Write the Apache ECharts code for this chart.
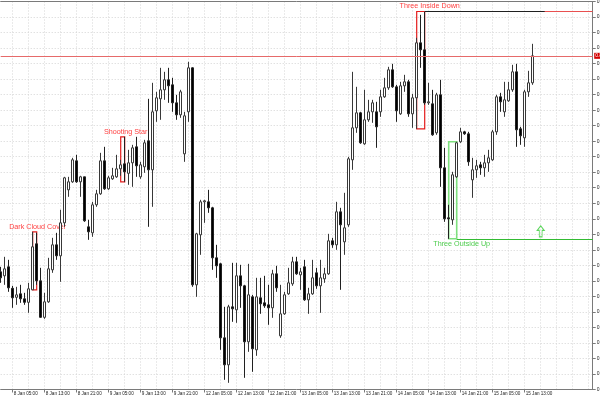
<!DOCTYPE html>
<html><head><meta charset="utf-8">
<script src="https://cdn.jsdelivr.net/npm/echarts@6/dist/echarts.min.js"></script>
<style>html,body{margin:0;padding:0;background:#fff}#c{width:600px;height:400px}</style>
</head><body><div id="c"></div>
<script>
// hourly bars, Friday closes 23:00, Monday opens 00:00
const daySpans = [[8,2,23],[9,0,23],[12,0,23],[13,0,23],[14,0,23],[15,0,23],[16,0,6]];
const categories = [];
daySpans.forEach(([d,h0,h1]) => { for (let h=h0; h<=h1; h++) categories.push(d+' Jan '+String(h).padStart(2,'0')+':00'); });

const tickLabels = ['8 Jan 05:00','8 Jan 13:00','8 Jan 21:00','9 Jan 05:00','9 Jan 13:00','9 Jan 21:00',
  '12 Jan 05:00','12 Jan 13:00','12 Jan 21:00','13 Jan 05:00','13 Jan 13:00','13 Jan 21:00',
  '14 Jan 05:00','14 Jan 13:00','14 Jan 21:00','15 Jan 05:00','15 Jan 13:00'];

const opens = [0.8126,0.8122,0.8131,0.81095,0.81005,0.8104,0.8099,0.80955,0.8108,0.8154,
0.8117,0.80805,0.8096,0.8128,0.8153,0.8142,0.8175,0.8208,0.8216,0.8237,
0.8216,0.8221,0.8171,0.8165,0.8193,0.8204,0.8237,0.8209,0.8219,0.8221,
0.8229,0.8234,0.82245,0.8235,0.8251,0.8221,0.8231,0.8257,0.8228,0.8287,
0.8299,0.8308,0.8318,0.8313,0.8295,0.8283,0.8244,0.8286,0.8330,0.8113,
0.8163,0.8196,0.8196,0.8190,0.8140,0.8134,0.8060,0.8033,0.8091,0.8088,
0.8122,0.8112,0.8056,0.8101,0.8048,0.8100,0.8095,0.8093,0.8090,0.8124,
0.8062,0.8084,0.8104,0.8114,0.8136,0.8123,0.8131,0.8098,0.8104,0.8125,
0.8112,0.8119,0.8124,0.8157,0.8153,0.8186,0.8156,0.8173,0.8238,0.8270,
0.8285,0.8254,0.8278,0.8286,0.8286,0.8286,0.8301,0.8310,0.8328,0.8311,
0.8284,0.8312,0.8316,0.8284,0.8300,0.8355,0.8348,0.8295,0.8294,0.8265,
0.8303,0.8230,0.8180,0.8178,0.8221,0.8256,0.8266,0.8264,0.8218,0.8228,
0.8233,0.8230,0.8235,0.8238,0.8266,0.8301,0.8286,0.8297,0.8308,0.8326,
0.8269,0.8260,0.8306,0.8315];
const closes = [0.8120,0.8129,0.8110,0.8100,0.8103,0.8099,0.80955,0.8109,0.8151,0.8117,
0.80805,0.8096,0.8129,0.8153,0.8142,0.8175,0.8220,0.8216,0.8238,0.8216,
0.8221,0.8177,0.8166,0.8193,0.8204,0.8237,0.8209,0.8220,0.8222,0.8229,
0.8233,0.8226,0.8235,0.8250,0.8232,0.8233,0.8255,0.8228,0.8286,0.8300,
0.8308,0.8318,0.8312,0.8295,0.8283,0.8306,0.8282,0.8330,0.8113,0.8164,
0.8196,0.8197,0.8190,0.8140,0.8132,0.8060,0.8033,0.8091,0.8089,0.8122,
0.8112,0.8056,0.8103,0.8049,0.8101,0.8094,0.8092,0.8090,0.8124,0.8110,
0.8084,0.8103,0.8115,0.8136,0.8124,0.8126,0.8098,0.8104,0.8120,0.8112,
0.8120,0.8124,0.8157,0.8153,0.8186,0.8173,0.8170,0.8239,0.8270,0.8285,
0.8255,0.8278,0.8286,0.8295,0.8271,0.8301,0.8310,0.8328,0.8311,0.8287,
0.8312,0.8316,0.8284,0.8300,0.8355,0.8348,0.8295,0.8296,0.8263,0.8303,
0.8230,0.8179,0.8179,0.8223,0.8255,0.8266,0.8264,0.8236,0.8228,0.8232,
0.8230,0.8235,0.8240,0.8266,0.8301,0.8296,0.8298,0.8308,0.8326,0.8268,
0.8262,0.8306,0.8315,0.8342];
const lows = [0.8115,0.8113,0.8106,0.8090,0.8093,0.8095,0.8093,0.8085,0.8108,0.8113,
0.8080,0.8079,0.8095,0.8125,0.8138,0.8116,0.8171,0.8201,0.8215,0.8215,
0.8201,0.8176,0.8158,0.8161,0.8191,0.8203,0.8208,0.8208,0.8218,0.8220,
0.8222,0.8216,0.8213,0.8211,0.8221,0.8219,0.8225,0.8171,0.8191,0.8276,
0.8278,0.8298,0.8295,0.8286,0.8278,0.8280,0.8236,0.8276,0.8111,0.8101,
0.8143,0.8175,0.8185,0.8128,0.8120,0.8048,0.8018,0.8015,0.8076,0.8075,
0.8090,0.8020,0.8046,0.8026,0.8042,0.8084,0.8090,0.8073,0.8080,0.8106,
0.8060,0.8083,0.8103,0.8112,0.8123,0.8108,0.8097,0.8084,0.8103,0.8109,
0.8085,0.8115,0.8123,0.8150,0.8148,0.8108,0.8143,0.8171,0.8228,0.8265,
0.8254,0.8253,0.8276,0.8275,0.8250,0.8281,0.8300,0.8308,0.8310,0.8276,
0.8283,0.8306,0.8281,0.8270,0.8269,0.8330,0.8293,0.8293,0.8262,0.8263,
0.8211,0.8176,0.8159,0.8173,0.8220,0.8255,0.8263,0.8232,0.8200,0.8220,
0.8223,0.8221,0.8226,0.8237,0.8263,0.8286,0.8281,0.8296,0.8306,0.8251,
0.8253,0.8251,0.8301,0.8313];
const highs = [0.8131,0.8141,0.8138,0.8112,0.8111,0.8113,0.8105,0.8115,0.8166,0.8165,
0.8130,0.8105,0.8140,0.8160,0.8165,0.8188,0.8221,0.8221,0.8240,0.8243,
0.8222,0.8221,0.8178,0.8196,0.8208,0.8245,0.8251,0.8222,0.8230,0.8243,
0.8238,0.8261,0.8248,0.8253,0.8261,0.8236,0.8258,0.8299,0.8315,0.8306,
0.8330,0.8326,0.8330,0.8320,0.8303,0.8308,0.8286,0.8336,0.83305,0.8165,
0.8198,0.8198,0.8208,0.8191,0.8153,0.8135,0.8091,0.8093,0.8135,0.8135,
0.8133,0.8113,0.8134,0.8103,0.8120,0.8120,0.8122,0.8113,0.8128,0.8132,
0.8113,0.8106,0.8130,0.8141,0.8141,0.8130,0.8138,0.8110,0.8138,0.8130,
0.8138,0.8130,0.8164,0.8160,0.8196,0.8190,0.8205,0.8241,0.8326,0.8311,
0.8286,0.8308,0.8298,0.8298,0.8296,0.8308,0.8320,0.8331,0.8334,0.8313,
0.8316,0.8323,0.8318,0.8304,0.8360,0.8383,0.8386,0.8315,0.8308,0.8305,
0.8318,0.8250,0.8193,0.8226,0.8256,0.8270,0.8267,0.8266,0.8240,0.8238,
0.8236,0.8243,0.8248,0.8268,0.8303,0.8305,0.8316,0.8316,0.8333,0.8334,
0.8271,0.8308,0.8327,0.8354];

// candlestick patterns found: [name, first bar, last bar, high, low, colour]
const patterns = [
  ['Dark Cloud Cover', 8, 9, 0.8166, 0.8108, 'red'],
  ['Shooting Star', 30, 31, 0.8261, 0.8216, 'red'],
  ['Three Inside Down', 104, 106, 0.83863, 0.8269, 'red'],
  ['Three Outside Up', 112, 114, 0.8256, 0.8159, 'green']
];
const signalArrow = [135, 0.81665];
const levelLineEnd = 136;

// price scale
const yStep = 0.001552, yMin = 516 * 0.001552, yMax = 541 * 0.001552;

const candles = opens.map((o, i) => [o, closes[i], lows[i], highs[i]]);
const lastClose = closes[closes.length - 1];
const lastCat = categories[categories.length - 1];
const font = '"Liberation Sans", Arial, sans-serif';

const areaData = patterns.map(p => {
  const red = p[5] === 'red';
  return [{
    name: p[0], xAxis: categories[p[1]], yAxis: p[3],
    itemStyle: {color: 'rgba(0,0,0,0)', borderColor: red ? '#e41c1c' : '#7ee07e', borderWidth: red ? 1.2 : 1.6},
    label: {show: true, position: red ? 'top' : 'bottom', distance: 1, offset: [p[1] > 100 ? 9 : 3, 0],
      color: red ? '#ff4040' : '#4ccc4c', fontSize: 7.2, fontFamily: font}
  }, {xAxis: categories[p[2]], yAxis: p[4]}];
});

const tid = patterns[2], tou = patterns[3];
const chart = echarts.init(document.getElementById('c'), null, {renderer: 'canvas'});
chart.setOption({
  animation: false,
  backgroundColor: '#ffffff',
  grid: {left: 0.7, top: 1.5, width: 592, height: 388, containLabel: false, outerBoundsMode: 'none'},
  xAxis: [{
    type: 'category', data: categories, boundaryGap: false,
    axisLine: {lineStyle: {color: '#7a7a7a', width: 1}},
    axisTick: {show: true, length: 3, interval: (i, v) => tickLabels.includes(v), lineStyle: {color: '#7a7a7a'}},
    axisLabel: {interval: (i, v) => tickLabels.includes(v), fontSize: 4.6, fontFamily: font, color: '#222',
      align: 'left', margin: 1.5, padding: [0, 0, 0, 1], hideOverlap: false},
    splitLine: {show: true, interval: (i) => i % 4 === 3, lineStyle: {color: '#d4d4d4', type: [1, 2], width: 1}}
  }, {
    type: 'category', data: categories, boundaryGap: false, position: 'top',
    axisLine: {lineStyle: {color: '#7a7a7a'}}, axisTick: {show: false}, axisLabel: {show: false}, splitLine: {show: false}
  }],
  yAxis: {
    type: 'value', position: 'right', min: yMin, max: yMax, interval: yStep,
    axisLine: {show: true, lineStyle: {color: '#7a7a7a'}},
    axisTick: {show: true, length: 3, lineStyle: {color: '#7a7a7a'}},
    axisLabel: {fontSize: 5, margin: 4, color: '#222', fontFamily: font, formatter: v => v.toFixed(4), hideOverlap: false},
    splitLine: {show: true, lineStyle: {color: '#d4d4d4', type: [1, 2], width: 1}}
  },
  series: [{
    type: 'candlestick', data: candles, barWidth: 3, clip: false,
    itemStyle: {color: '#ffffff', color0: '#000000', borderColor: '#383838', borderColor0: '#202020', borderWidth: 1},
    markArea: {silent: true, data: areaData},
    markLine: {
      silent: true, symbol: 'none', animation: false,
      data: [
        [{coord: [categories[0], lastClose], lineStyle: {color: '#e66a6a', width: 1, type: 'solid'},
          label: {show: true, position: 'end', distance: 1.5, formatter: lastClose.toFixed(4), color: '#fff',
            backgroundColor: '#d40000', fontSize: 5, fontFamily: font, padding: [1, 1, 0, 1]}},
         {coord: [lastCat, lastClose]}],
        [{coord: [categories[tid[2]], tid[3]], lineStyle: {color: '#e85050', width: 1, type: 'solid'}, label: {show: false}},
         {coord: [lastCat, tid[3]]}],
        [{coord: [categories[tid[2]], tid[3]], lineStyle: {color: '#202020', width: 1, type: 'solid'}, label: {show: false}},
         {coord: [categories[levelLineEnd], tid[3]]}],
        [{coord: [categories[tou[2]], tou[4]], lineStyle: {color: '#33bb33', width: 1, type: 'solid'}, label: {show: false}},
         {coord: [lastCat, tou[4]]}]
      ]
    }
  }, {
    type: 'scatter', data: [[categories[signalArrow[0]], signalArrow[1]]],
    symbol: 'path://M5,0 L10,5 L7,5 L7,12 L3,12 L3,5 L0,5 Z', symbolSize: [7, 11],
    itemStyle: {color: 'rgba(255,255,255,0)', borderColor: '#33cc33', borderWidth: 1}
  }]
});
</script></body></html>
